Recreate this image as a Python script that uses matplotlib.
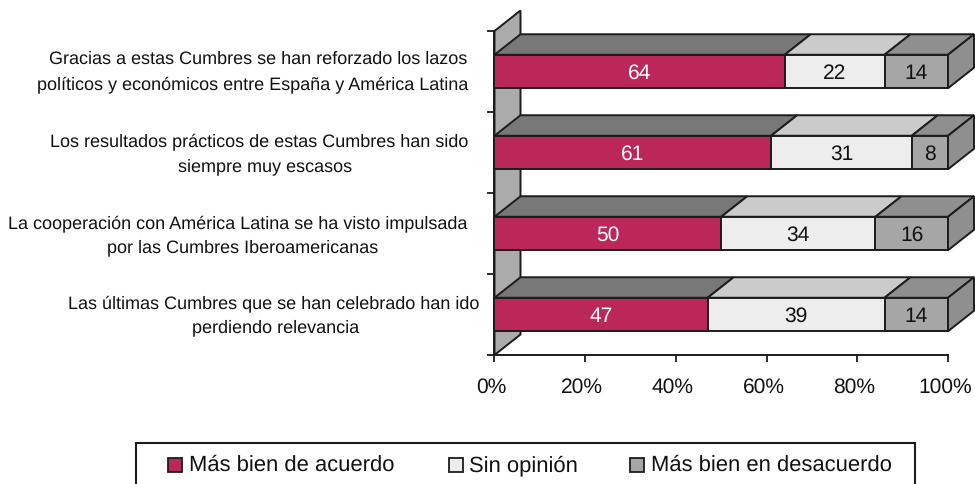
import numpy as np
import matplotlib
matplotlib.use("Agg")
import matplotlib.pyplot as plt
from matplotlib.patches import Polygon, Rectangle
from matplotlib.transforms import ScaledTranslation

plt.rcParams['font.family'] = ['Liberation Sans', 'DejaVu Sans']
plt.rcParams['text.hinting'] = 'no_hinting'
plt.rcParams['text.hinting_factor'] = 1

######### data ############
labels = [
    ("Gracias a estas Cumbres se han reforzado los lazos",
     "políticos y económicos entre España y América Latina"),
    ("Los resultados prácticos de estas Cumbres han sido",
     "siempre muy escasos"),
    ("La cooperación con América Latina se ha visto impulsada",
     "por las Cumbres Iberoamericanas"),
    ("Las últimas Cumbres que se han celebrado han ido",
     "perdiendo relevancia"),
]
acuerdo = [64, 61, 50, 47]
sin_opinion = [22, 31, 34, 39]
desacuerdo = [14, 8, 16, 14]
series_names = ["Más bien de acuerdo", "Sin opinión", "Más bien en desacuerdo"]
xticks = [0, 20, 40, 60, 80, 100]
###########################

W, H = 975, 484
ink = "#1c1c1c"
front_col = ["#BC2759", "#EDEDED", "#A6A6A6"]
top_col = ["#787878", "#CBCBCB", "#8F8F8F"]
side_col = "#8F8F8F"
wall_col = "#ABABAB"
text_col = ["white", "#111111", "#111111"]

# layout in pixels of the reference
x0, x1 = 494.5, 948
y_bottom, y_top = 355, 31
band = (y_bottom - y_top) / 4
depth_x = 26 / (x1 - x0) * 100
depth_y = 20.5 / band
bar_h = 33.5 / band

fig = plt.figure(figsize=(W / 100, H / 100), dpi=100)
ax = fig.add_axes([x0 / W, 1 - y_bottom / H, (x1 - x0) / W, (y_bottom - y_top) / H])
ax.set_xlim(0, 100)
ax.set_ylim(0, 4)
ax.patch.set_visible(False)


def poly(pts, color, z):
    ax.add_patch(Polygon(pts, closed=True, facecolor=color, edgecolor=ink,
                         linewidth=1.4, joinstyle='miter', clip_on=False, zorder=z))


# back wall
poly([(0, 0), (depth_x, depth_y), (depth_x, 4 + depth_y), (0, 4)], wall_col, 1)

series = [acuerdo, sin_opinion, desacuerdo]
for i in range(4):
    yc = 3.5 - i
    lo = yc - bar_h / 2
    hi = yc + bar_h / 2
    z = 2 + i
    left = 0
    for s, vals in enumerate(series):
        v = vals[i]
        right = left + v
        poly([(left, hi), (right, hi), (right + depth_x, hi + depth_y),
              (left + depth_x, hi + depth_y)], top_col[s], z)
        poly([(left, lo), (right, lo), (right, hi), (left, hi)], front_col[s], z)
        ax.text(left + v / 2, yc, str(v), color=text_col[s], fontsize=15.4,
                ha='center', va='center_baseline', zorder=z + 1)
        left = right
    poly([(100, lo), (100 + depth_x, lo + depth_y),
          (100 + depth_x, hi + depth_y), (100, hi)], side_col, z)

for sp in ['top', 'right']:
    ax.spines[sp].set_visible(False)
for sp in ['left', 'bottom']:
    ax.spines[sp].set_color(ink)
    ax.spines[sp].set_linewidth(1.4)
    ax.spines[sp].set_zorder(20)
ax.set_xticks(xticks)
ax.set_xticklabels([f"{t}%" for t in xticks], fontsize=15, color="#111111")
ax.set_yticks(range(5))
ax.set_yticklabels([])
ax.tick_params(axis='both', length=5, width=1.3, color=ink)
ax.tick_params(axis='x', pad=11)
# the tick labels sit a little left of their ticks
shift = ScaledTranslation(-3 / 100, 0, fig.dpi_scale_trans)
for lab in ax.get_xticklabels():
    lab.set_transform(lab.get_transform() + shift)

# category labels, two lines each
line_cx = [(258, 252.5), (259, 265), (238, 243), (274, 276)]
line_y = [(64, 89), (146, 171), (228, 252), (308, 332)]
for lines, cx, cy in zip(labels, line_cx, line_y):
    for txt, px, py in zip(lines, cx, cy):
        fig.text(px / W, 1 - py / H, txt, fontsize=13, color="#111111",
                 ha='center', va='baseline')

# legend box
fig.add_artist(Rectangle((136 / W, -0.02), (915 - 136) / W, 1.02 - 443 / H,
                         transform=fig.transFigure, facecolor='white',
                         edgecolor=ink, linewidth=1.5))
swatch_x = [168, 449, 630]
text_x = [189, 469, 651]
for name, col, sx, tx in zip(series_names, front_col, swatch_x, text_x):
    fig.add_artist(Rectangle((sx / W, 1 - 472 / H), 14 / W, 14 / H,
                             transform=fig.transFigure, facecolor=col,
                             edgecolor=ink, linewidth=1.3))
    fig.text(tx / W, 1 - 471 / H, name, fontsize=15.8, color="#111111",
             ha='left', va='baseline')

fig.savefig("out.png", dpi=100)
